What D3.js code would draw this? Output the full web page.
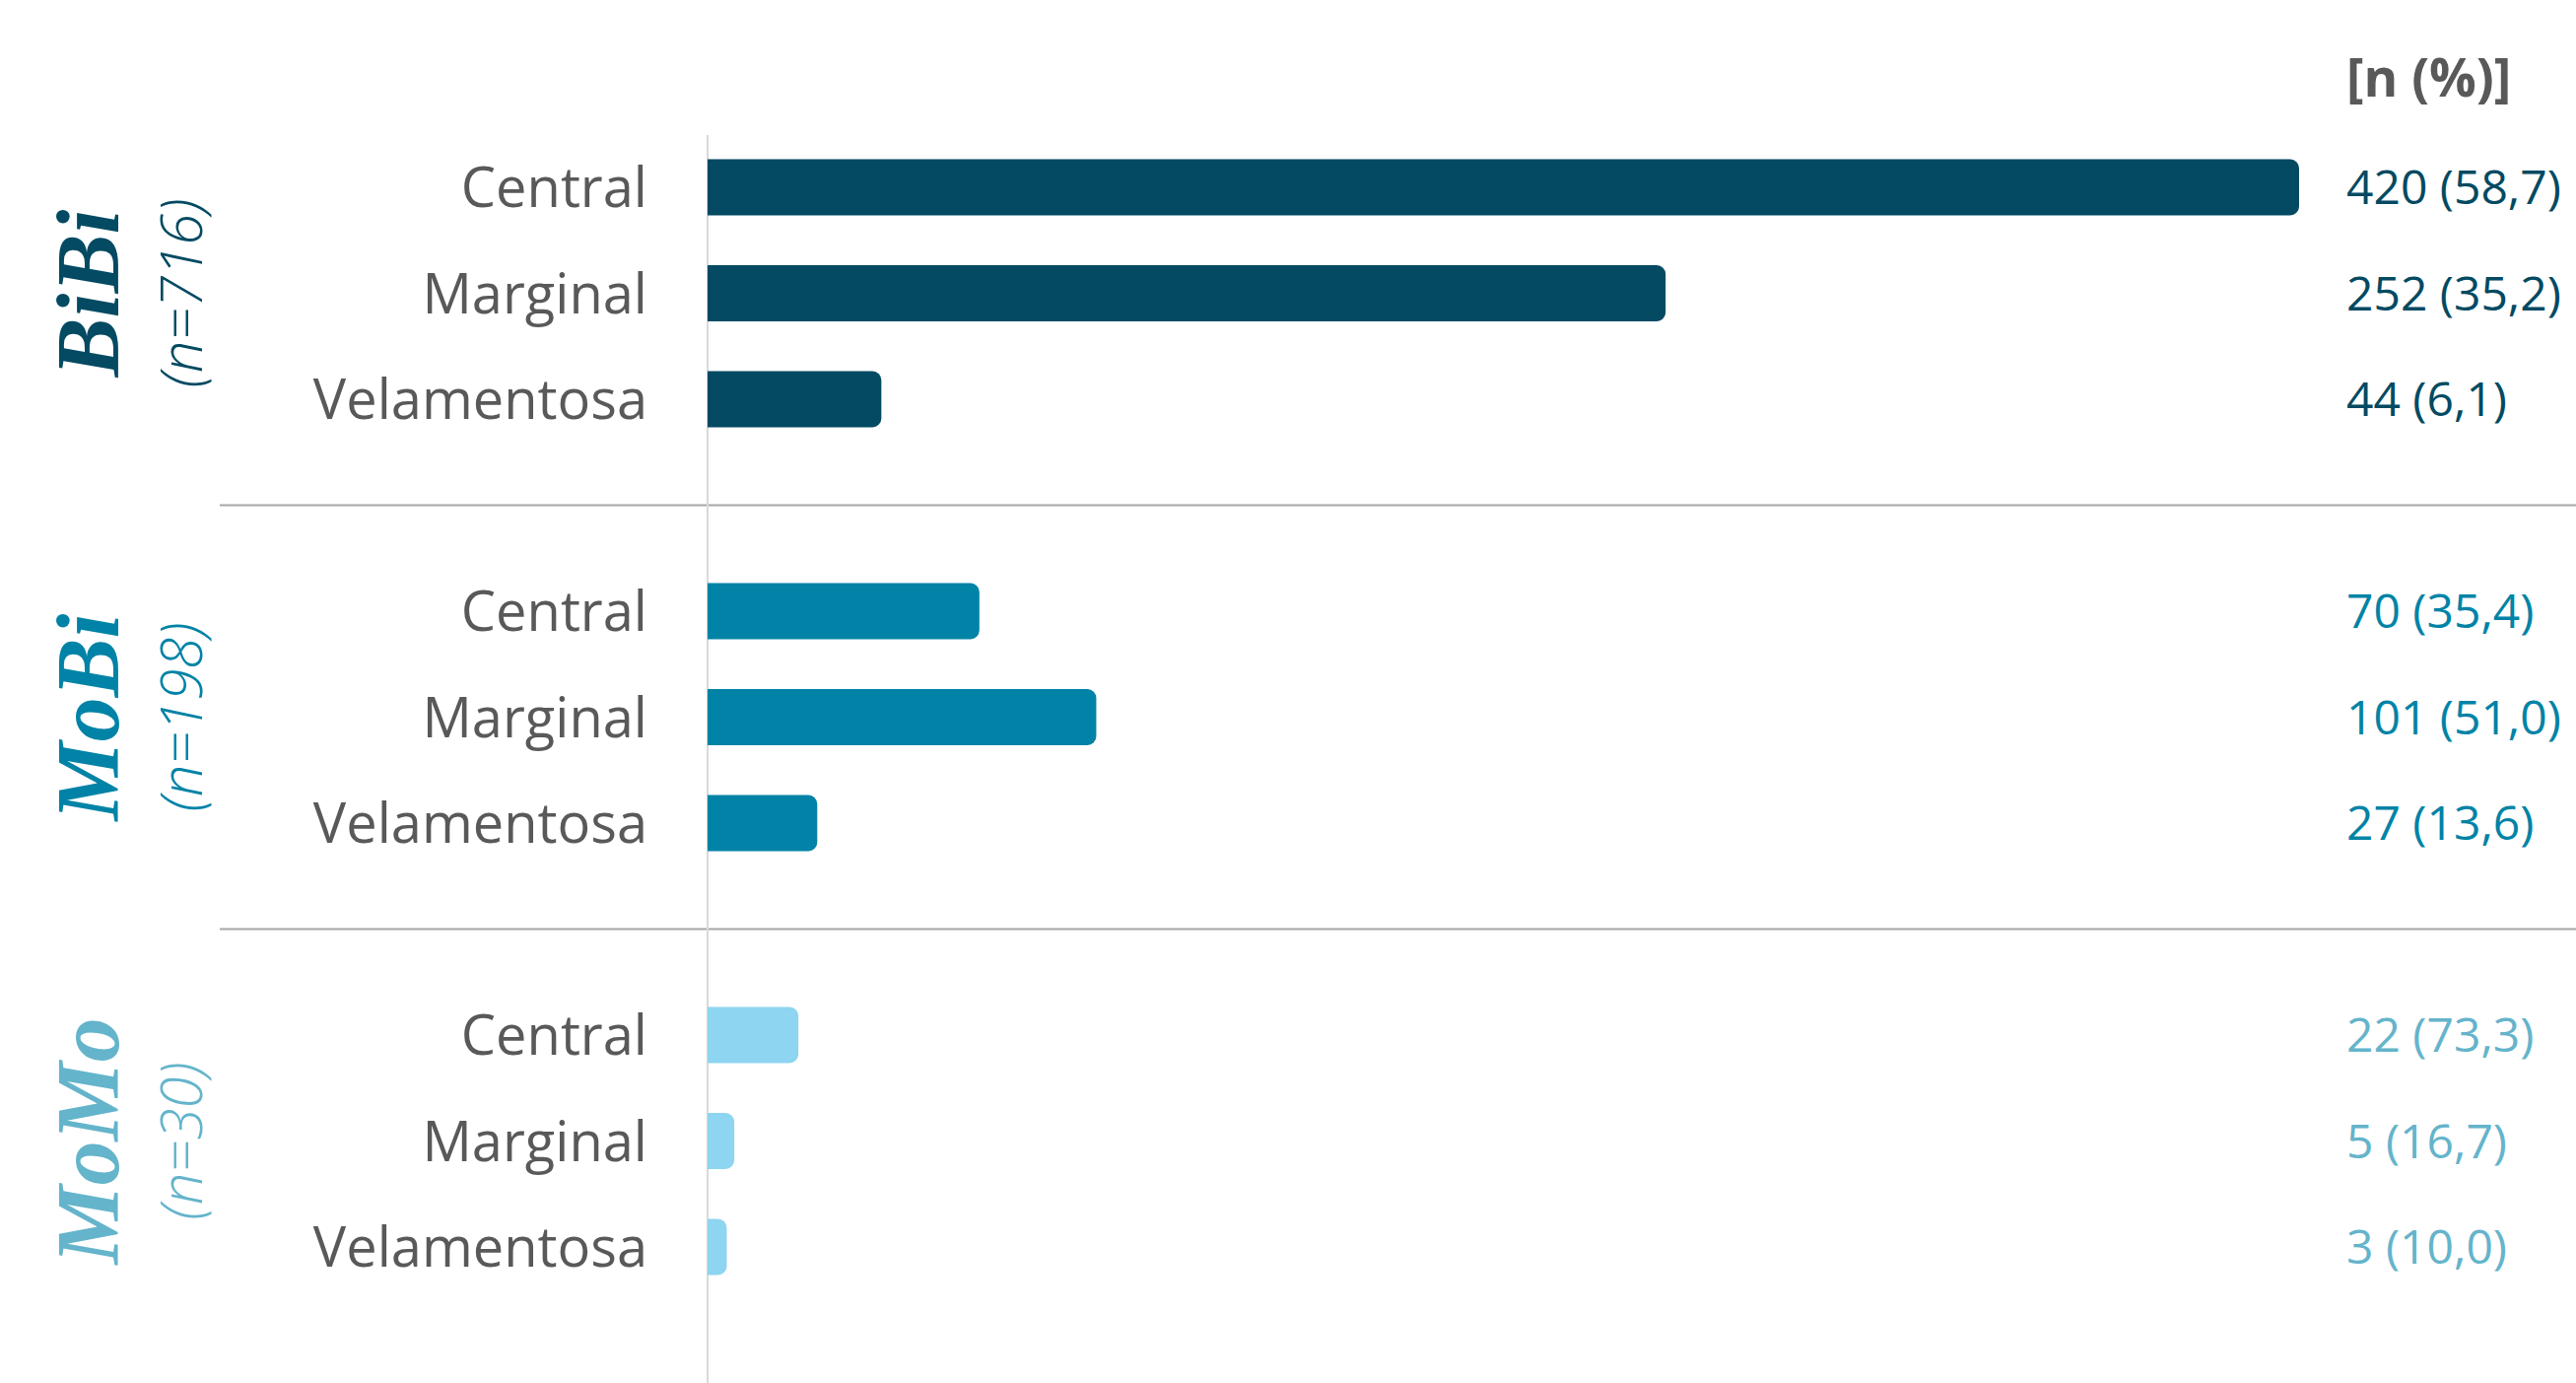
<!DOCTYPE html>
<html>
<head>
<meta charset="utf-8">
<script src="https://cdn.jsdelivr.net/npm/d3@7"></script>
<style>
  html, body { margin: 0; padding: 0; background: #fff; }
  svg { display: block; }
</style>
</head>
<body>
<svg id="chart"></svg>
<script>
// chart data
const groups = ["BiBi", "MoBi", "MoMo"];
const groupN = [716, 198, 30];
const categories = ["Central", "Marginal", "Velamentosa"];
const bibiCounts = [420, 252, 44];
const bibiPct = [58.7, 35.2, 6.1];
const mobiCounts = [70, 101, 27];
const mobiPct = [35.4, 51.0, 13.6];
const momoCounts = [22, 5, 3];
const momoPct = [73.3, 16.7, 10.0];
const headerLabel = "[n (%)]";

const counts = [bibiCounts, mobiCounts, momoCounts];
const pcts = [bibiPct, mobiPct, momoPct];

const barColors = ["#034a62", "#0083a6", "#8dd5f0"];
const textColors = ["#034a62", "#0083a6", "#64b4cb"];

const W = 2614, H = 1403;
const axisX = 718;
const capExt = 8;       // rounded end sticks out a little past the value
const radius = 9;

const svg = d3.select("#chart").attr("width", W).attr("height", H);

// scales
const x = d3.scaleLinear()
  .domain([0, d3.max(bibiCounts)])
  .range([0, 1607]);

const yGroup = d3.scaleBand()
  .domain(groups)
  .range([136.25, 1318.75])
  .paddingInner(0.25)
  .paddingOuter(0);

const yCat = d3.scaleBand()
  .domain(categories)
  .range([0, yGroup.bandwidth()])
  .paddingInner(0.47)
  .paddingOuter(0.235);

const fmtPct = v => d3.format(".1f")(v).replace(".", ",");

// bar with square left end and rounded right end
function barPath(x0, y0, w, h, r) {
  r = Math.min(r, w, h / 2);
  const p = d3.path();
  p.moveTo(x0, y0);
  p.lineTo(x0 + w - r, y0);
  p.arcTo(x0 + w, y0, x0 + w, y0 + r, r);
  p.lineTo(x0 + w, y0 + h - r);
  p.arcTo(x0 + w, y0 + h, x0 + w - r, y0 + h, r);
  p.lineTo(x0, y0 + h);
  p.closePath();
  return p.toString();
}

// separators between groups
groups.slice(1).forEach(g => {
  const ySep = yGroup(g) - yGroup.step() * yGroup.paddingInner() / 2;
  svg.append("line")
    .attr("x1", 223).attr("x2", W)
    .attr("y1", ySep).attr("y2", ySep)
    .attr("stroke", "#a6a6a6")
    .attr("stroke-width", 2);
});

// vertical axis line
svg.append("line")
  .attr("x1", axisX).attr("x2", axisX)
  .attr("y1", 137).attr("y2", H)
  .attr("stroke", "#d9d9d9")
  .attr("stroke-width", 2);

// header
svg.append("text")
  .attr("x", 2381)
  .attr("y", 98)
  .attr("font-family", "'Open Sans', sans-serif")
  .attr("font-weight", "bold")
  .attr("font-size", 53)
  .attr("fill", "#595959")
  .text(headerLabel);

groups.forEach((g, gi) => {
  const gy = yGroup(g);
  const gc = gy + yGroup.bandwidth() / 2;
  const grp = svg.append("g");

  // group title, rotated
  grp.append("text")
    .attr("transform", `translate(120,${gc}) rotate(-90)`)
    .attr("text-anchor", "middle")
    .attr("font-family", "'Liberation Serif', serif")
    .attr("font-weight", "bold")
    .attr("font-style", "italic")
    .attr("font-size", 90)
    .attr("fill", textColors[gi])
    .text(g);

  grp.append("text")
    .attr("transform", `translate(205,${gc}) rotate(-90)`)
    .attr("text-anchor", "middle")
    .attr("font-family", "'Open Sans', sans-serif")
    .attr("font-style", "italic")
    .attr("font-weight", 300)
    .attr("font-size", 58)
    .attr("fill", textColors[gi])
    .text(`(n=${groupN[gi]})`);

  categories.forEach((c, ci) => {
    const by = gy + yCat(c);
    const bc = by + yCat.bandwidth() / 2;
    const v = counts[gi][ci];

    grp.append("path")
      .attr("d", barPath(axisX, by, x(v) + capExt, yCat.bandwidth(), radius))
      .attr("fill", barColors[gi]);

    grp.append("text")
      .attr("x", 657)
      .attr("y", bc)
      .attr("dy", "0.36em")
      .attr("text-anchor", "end")
      .attr("font-family", "'Open Sans', sans-serif")
      .attr("font-size", 56)
      .attr("fill", "#595959")
      .text(c);

    grp.append("text")
      .attr("x", 2381)
      .attr("y", bc)
      .attr("dy", "0.36em")
      .attr("font-family", "'Open Sans', sans-serif")
      .attr("font-size", 48)
      .attr("fill", textColors[gi])
      .text(`${v} (${fmtPct(pcts[gi][ci])})`);
  });
});
</script>
</body>
</html>
